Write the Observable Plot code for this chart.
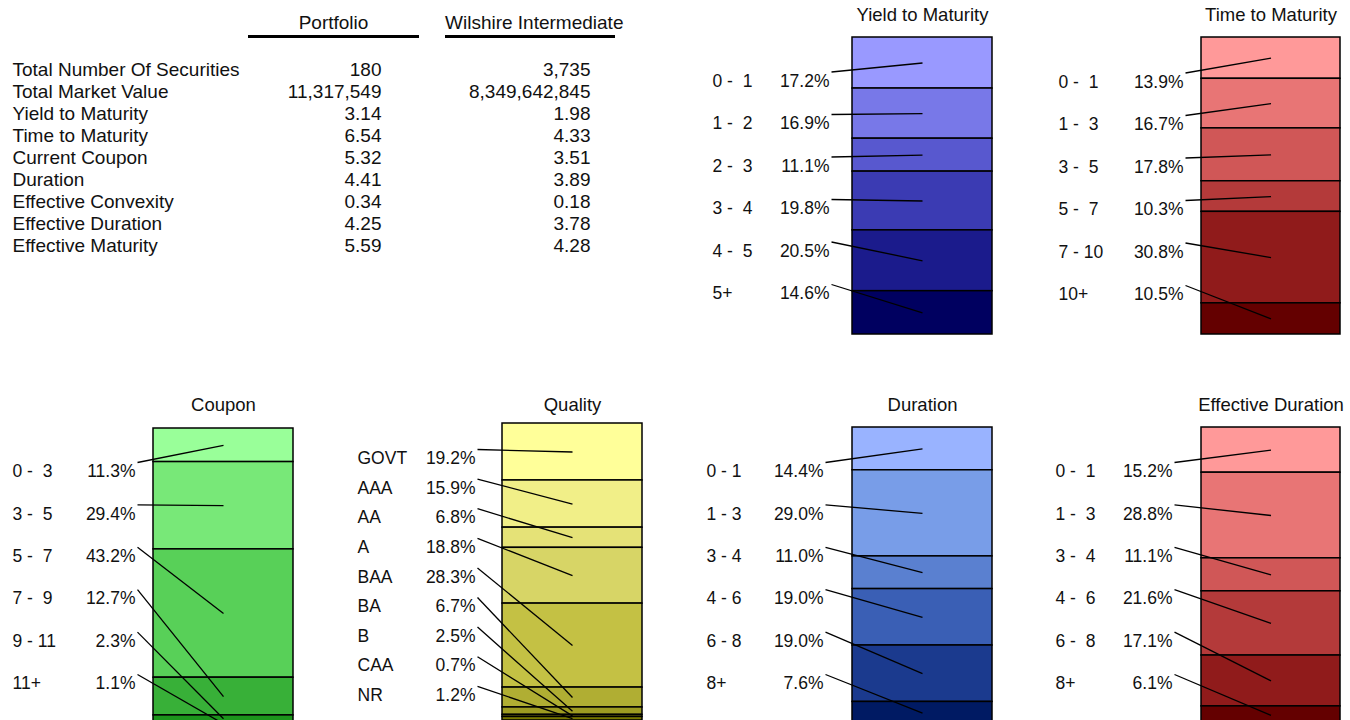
<!DOCTYPE html>
<html>
<head>
<meta charset="utf-8">
<script src="https://cdn.jsdelivr.net/npm/d3@7"></script>
<script src="https://cdn.jsdelivr.net/npm/@observablehq/plot@0.6"></script>
<style>
  html, body { margin: 0; padding: 0; background: #fff; overflow: hidden; width: 1350px; height: 720px; }
  #page { position: relative; width: 1350px; height: 720px; overflow: hidden;
          font-family: "Liberation Sans", Arial, Helvetica, sans-serif; color: #111; }
  .block { position: absolute; }
  .block svg { overflow: visible; }
  .colhead { position: absolute; font-size: 19px; text-align: center; white-space: nowrap;
             border-bottom: 3px solid #000; line-height: 22px; height: 23px; }
</style>
</head>
<body>
<div id="page"></div>
<script>
// ---- Summary statistics ----
const metricNames = [
  "Total Number Of Securities", "Total Market Value", "Yield to Maturity",
  "Time to Maturity", "Current Coupon", "Duration", "Effective Convexity",
  "Effective Duration", "Effective Maturity"
];
const portfolioValues = [180, 11317549, 3.14, 6.54, 5.32, 4.41, 0.34, 4.25, 5.59];
const benchmarkValues = [3735, 8349642845, 1.98, 4.33, 3.51, 3.89, 0.18, 3.78, 4.28];
const columnTitles = ["Portfolio", "Wilshire Intermediate"];

// ---- Distribution breakdowns (percent of portfolio) ----
const ytmBuckets = ["0 -  1", "1 -  2", "2 -  3", "3 -  4", "4 -  5", "5+"];
const ytmShares = [17.2, 16.9, 11.1, 19.8, 20.5, 14.6];

const ttmBuckets = ["0 -  1", "1 -  3", "3 -  5", "5 -  7", "7 - 10", "10+"];
const ttmShares = [13.9, 16.7, 17.8, 10.3, 30.8, 10.5];

const couponBuckets = ["0 -  3", "3 -  5", "5 -  7", "7 -  9", "9 - 11", "11+"];
const couponShares = [11.3, 29.4, 43.2, 12.7, 2.3, 1.1];

const qualityBuckets = ["GOVT", "AAA", "AA", "A", "BAA", "BA", "B", "CAA", "NR"];
const qualityShares = [19.2, 15.9, 6.8, 18.8, 28.3, 6.7, 2.5, 0.7, 1.2];

const durationBuckets = ["0 - 1", "1 - 3", "3 - 4", "4 - 6", "6 - 8", "8+"];
const durationShares = [14.4, 29.0, 11.0, 19.0, 19.0, 7.6];

const effDurationBuckets = ["0 -  1", "1 -  3", "3 -  4", "4 -  6", "6 -  8", "8+"];
const effDurationShares = [15.2, 28.8, 11.1, 21.6, 17.1, 6.1];

// ---- Palettes (light to dark) ----
const purples = ["#9999ff", "#7878e8", "#5858cf", "#3b3bb3", "#1b1b8c", "#000060"];
const reds = ["#ff9999", "#e87575", "#d05757", "#b43a3a", "#901b1b", "#640000"];
const greens = ["#99ff99", "#78e878", "#58d058", "#38b038", "#1c951c", "#006600"];
const yellows = ["#ffff99", "#f1ef88", "#e5e277", "#d7d566", "#c4c144", "#b0ae33",
                 "#9d9b22", "#898811", "#767600"];
const blues = ["#99b3ff", "#789de8", "#5a80d0", "#3a5fb5", "#1b3a8e", "#001a63"];

const FONT = '"Liberation Sans", Arial, Helvetica, sans-serif';
const page = document.getElementById("page");

function place(node, left, top) {
  const wrap = document.createElement("div");
  wrap.className = "block";
  wrap.style.left = left + "px";
  wrap.style.top = top + "px";
  wrap.appendChild(node);
  page.appendChild(wrap);
}

// ---- Statistics table ----
(function drawTable() {
  const fmt = (v, i) => (i < 2 ? d3.format(",")(v) : d3.format(".2f")(v));
  const rows = metricNames.map((name, i) => ({
    name, portfolio: fmt(portfolioValues[i], i), benchmark: fmt(benchmarkValues[i], i)
  }));
  const chart = Plot.plot({
    width: 640, height: 260,
    margin: 0,
    style: {fontFamily: FONT, fontSize: "19px", color: "#111", background: "transparent"},
    x: {domain: [0, 640], range: [0, 640], axis: null},
    y: {type: "point", domain: metricNames, range: [68, 246], padding: 0, axis: null},
    marks: [
      Plot.text(rows, {x: 12, y: "name", text: "name", textAnchor: "start", fontSize: 19, fill: "#111"}),
      Plot.text(rows, {x: 381, y: "name", text: "portfolio", textAnchor: "end", fontSize: 19, fill: "#111"}),
      Plot.text(rows, {x: 590, y: "name", text: "benchmark", textAnchor: "end", fontSize: 19, fill: "#111"})
    ]
  });
  place(chart, 0, 0);

  const heads = [{left: 248, width: 171}, {left: 445, width: 170}];
  columnTitles.forEach((t, i) => {
    const d = document.createElement("div");
    d.className = "colhead";
    d.textContent = t;
    d.style.left = heads[i].left + "px";
    d.style.top = "12px";
    d.style.width = heads[i].width + "px";
    page.appendChild(d);
  });
})();

// ---- Stacked distribution panel ----
const BAR_H = 297;

function distribution(title, buckets, shares, colors, L) {
  const total = d3.sum(shares);
  const ends = d3.cumsum(shares);
  const toUnits = px => (px - L.barTop) / BAR_H * total;   // page pixels -> share units
  const rows = buckets.map((bucket, i) => {
    const y2 = ends[i], y1 = y2 - shares[i];
    const rowPx = L.rowFirst + i * L.rowStep;
    return {
      bucket, share: shares[i], color: colors[i],
      y1, y2, mid: (y1 + y2) / 2,
      rowY: toUnits(rowPx), leadY: toUnits(rowPx - 9)
    };
  });
  const center = (L.barX[0] + L.barX[1]) / 2;
  const top = L.barTop - L.svgTop;
  const chart = Plot.plot({
    width: L.width, height: L.height,
    margin: 0,
    style: {fontFamily: FONT, fontSize: "18px", color: "#111", background: "transparent"},
    x: {domain: [L.left, L.left + L.width], range: [0, L.width], axis: null},
    y: {domain: [0, total], range: [top, top + BAR_H], axis: null},
    color: {type: "identity"},
    marks: [
      Plot.rect(rows, {x1: L.barX[0], x2: L.barX[1], y1: "y1", y2: "y2",
                       fill: "color", stroke: "#000", strokeWidth: 1.5}),
      Plot.link(rows, {x1: L.pctX + 2, y1: "leadY", x2: center, y2: "mid",
                       stroke: "#000", strokeWidth: 1.3}),
      Plot.text(rows, {x: L.catX, y: "rowY", text: "bucket", textAnchor: "start",
                       fontSize: 17.5, fill: "#111"}),
      Plot.text(rows, {x: L.pctX, y: "rowY", text: d => d.share.toFixed(1) + "%",
                       textAnchor: "end", fontSize: 17.5, fill: "#111"}),
      Plot.text([title], {x: center, y: toUnits(L.titleY), text: d => d,
                          fontSize: 18.5, fill: "#111"})
    ]
  });
  place(chart, L.left, L.svgTop);
}

// Layouts in page pixels
const topRow = {svgTop: 0, height: 340, barTop: 37, titleY: 15, rowFirst: 80.5, rowStep: 42.5};
const botRow = {svgTop: 385, height: 345, titleY: 405};

distribution("Yield to Maturity", ytmBuckets, ytmShares, purples,
  {...topRow, left: 700, width: 300, barX: [852, 992], catX: 712, pctX: 829});
distribution("Time to Maturity", ttmBuckets, ttmShares, reds,
  {...topRow, left: 1045, width: 305, barX: [1201, 1340], catX: 1058, pctX: 1183, rowFirst: 81.5});
distribution("Coupon", couponBuckets, couponShares, greens,
  {...botRow, left: 0, width: 300, barTop: 428, barX: [153, 293], catX: 12, pctX: 135,
   rowFirst: 471, rowStep: 42.4});
distribution("Quality", qualityBuckets, qualityShares, yellows,
  {...botRow, left: 345, width: 305, barTop: 423, barX: [502, 642], catX: 357, pctX: 475,
   rowFirst: 458, rowStep: 29.6});
distribution("Duration", durationBuckets, durationShares, blues,
  {...botRow, left: 700, width: 300, barTop: 427, barX: [852, 992], catX: 706, pctX: 823,
   rowFirst: 471, rowStep: 42.4});
distribution("Effective Duration", effDurationBuckets, effDurationShares, reds,
  {...botRow, left: 1045, width: 305, barTop: 427, barX: [1201, 1340], catX: 1055, pctX: 1172,
   rowFirst: 471, rowStep: 42.4});
</script>
</body>
</html>
